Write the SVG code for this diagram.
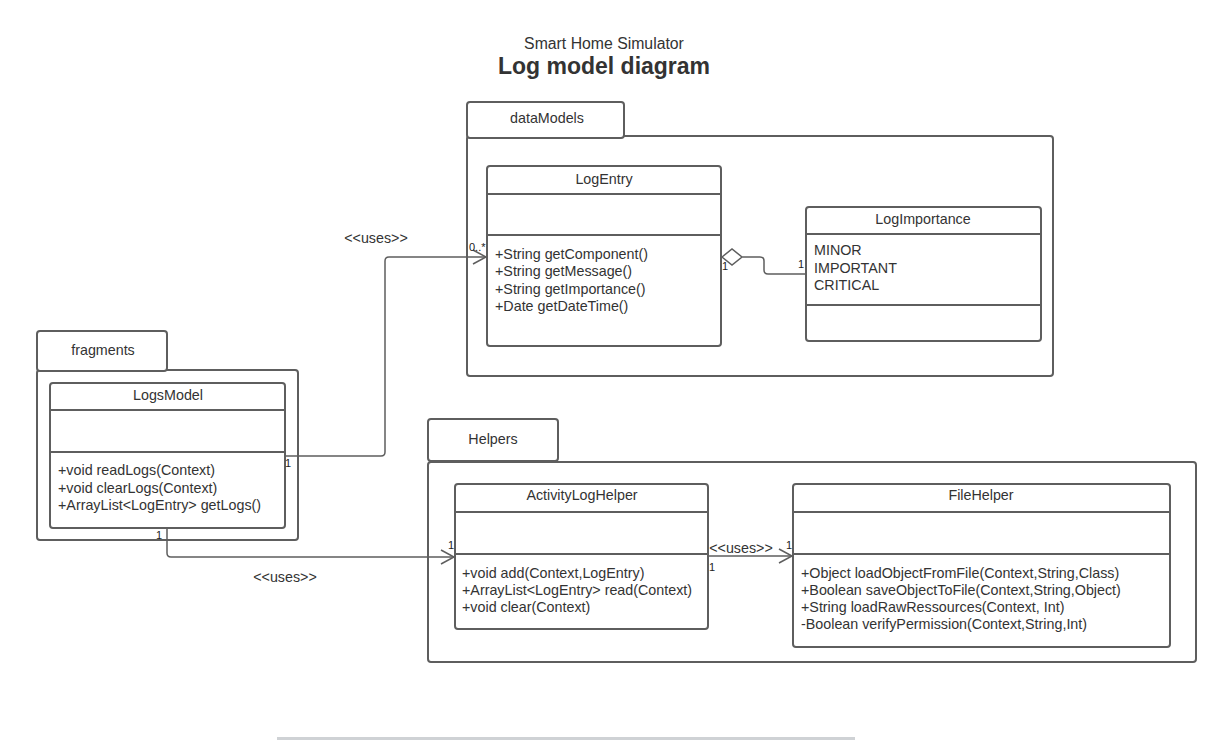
<svg xmlns="http://www.w3.org/2000/svg" width="1211" height="740" viewBox="0 0 1211 740">
<style>
.box{fill:#fff;stroke:#5e5e5e;stroke-width:2}
.ln{fill:none;stroke:#5e5e5e;stroke-width:1.5}
.t{font-family:"Liberation Sans",Arial,sans-serif;font-size:14.3px;fill:#333}
.c{text-anchor:middle}
.s{font-family:"Liberation Sans",Arial,sans-serif;font-size:11px;fill:#222}
</style>
<defs>
<marker id="open" markerWidth="16" markerHeight="16" refX="14" refY="8" orient="auto" markerUnits="userSpaceOnUse">
<path d="M1,1 L14,8 L1,15" fill="none" stroke="#5e5e5e" stroke-width="1.5"/>
</marker>
</defs>
<rect width="1211" height="740" fill="#fff"/>
<g id="title">
<text x="604" y="49" class="t c" style="font-size:15.8px">Smart Home Simulator</text>
<text x="604" y="74" class="t c" style="font-size:23px;font-weight:bold">Log model diagram</text>
</g>
<g id="pkg-dataModels">
<rect x="467" y="136" width="586" height="240" rx="3" class="box"/>
<rect x="467" y="102" width="157" height="36" rx="3" class="box"/>
<text x="547" y="123" class="t c">dataModels</text>
</g>
<g id="pkg-fragments">
<rect x="37" y="370" width="261" height="170" rx="3" class="box"/>
<rect x="37" y="331" width="130" height="40" rx="3" class="box"/>
<text x="103" y="355" class="t c">fragments</text>
</g>
<g id="pkg-Helpers">
<rect x="428" y="462" width="768" height="200" rx="3" class="box"/>
<rect x="428" y="419" width="130" height="42" rx="3" class="box"/>
<text x="493" y="444" class="t c">Helpers</text>
</g>
<g id="LogEntry">
<rect x="487" y="166" width="234" height="180" rx="3" class="box"/>
<line x1="487" y1="194" x2="721" y2="194" class="box"/>
<line x1="487" y1="235" x2="721" y2="235" class="box"/>
<text x="604" y="184" class="t c">LogEntry</text>
<text x="495" y="259" class="t">+String getComponent()</text>
<text x="495" y="276" class="t">+String getMessage()</text>
<text x="495" y="294" class="t">+String getImportance()</text>
<text x="495" y="311" class="t">+Date getDateTime()</text>
</g>
<g id="LogImportance">
<rect x="806" y="207" width="235" height="134" rx="3" class="box"/>
<line x1="806" y1="234" x2="1041" y2="234" class="box"/>
<line x1="806" y1="305" x2="1041" y2="305" class="box"/>
<text x="923" y="224" class="t c">LogImportance</text>
<text x="814" y="255" class="t">MINOR</text>
<text x="814" y="273" class="t">IMPORTANT</text>
<text x="814" y="290" class="t">CRITICAL</text>
</g>
<g id="LogsModel">
<rect x="50" y="383" width="235" height="145" rx="3" class="box"/>
<line x1="50" y1="410" x2="285" y2="410" class="box"/>
<line x1="50" y1="452" x2="285" y2="452" class="box"/>
<text x="168" y="400" class="t c">LogsModel</text>
<text x="58" y="475" class="t">+void readLogs(Context)</text>
<text x="58" y="493" class="t">+void clearLogs(Context)</text>
<text x="58" y="510" class="t">+ArrayList&lt;LogEntry&gt; getLogs()</text>
</g>
<g id="ActivityLogHelper">
<rect x="455" y="484" width="253" height="145" rx="3" class="box"/>
<line x1="455" y1="512" x2="708" y2="512" class="box"/>
<line x1="455" y1="554" x2="708" y2="554" class="box"/>
<text x="582" y="500" class="t c">ActivityLogHelper</text>
<text x="462" y="578" class="t">+void add(Context,LogEntry)</text>
<text x="462" y="595" class="t">+ArrayList&lt;LogEntry&gt; read(Context)</text>
<text x="462" y="612" class="t">+void clear(Context)</text>
</g>
<g id="FileHelper">
<rect x="793" y="484" width="377" height="163" rx="3" class="box"/>
<line x1="793" y1="512" x2="1170" y2="512" class="box"/>
<line x1="793" y1="554" x2="1170" y2="554" class="box"/>
<text x="981" y="500" class="t c">FileHelper</text>
<text x="801" y="578" class="t">+Object loadObjectFromFile(Context,String,Class)</text>
<text x="801" y="595" class="t">+Boolean saveObjectToFile(Context,String,Object)</text>
<text x="801" y="612" class="t">+String loadRawRessources(Context, Int)</text>
<text x="801" y="629" class="t">-Boolean verifyPermission(Context,String,Int)</text>
</g>
<g id="connectors">
<path d="M286,456 H381 Q385,456 385,452 V261 Q385,257 389,257 H486" class="ln" marker-end="url(#open)"/>
<path d="M167,529 V553 Q167,557 171,557 H454" class="ln" marker-end="url(#open)"/>
<path d="M709,556 H792" class="ln" marker-end="url(#open)"/>
<path d="M722,257 L732,249 L742,257 L732,265 Z M742,257 H760 Q764,257 764,261 V270 Q764,274 768,274 H805" class="ln" fill="#fff"/>
<text x="376" y="243" class="t c">&lt;&lt;uses&gt;&gt;</text>
<text x="285" y="582" class="t c">&lt;&lt;uses&gt;&gt;</text>
<text x="741" y="553" class="t c">&lt;&lt;uses&gt;&gt;</text>
<text x="469" y="251" class="s">0..*</text>
<text x="285" y="467" class="s">1</text>
<text x="156" y="539" class="s">1</text>
<text x="448" y="549" class="s">1</text>
<text x="709" y="571" class="s">1</text>
<text x="786" y="549" class="s">1</text>
<text x="722" y="270" class="s">1</text>
<text x="798" y="268" class="s">1</text>
</g>
<rect x="277" y="737" width="578" height="3" fill="#cfd2d5"/>
</svg>
